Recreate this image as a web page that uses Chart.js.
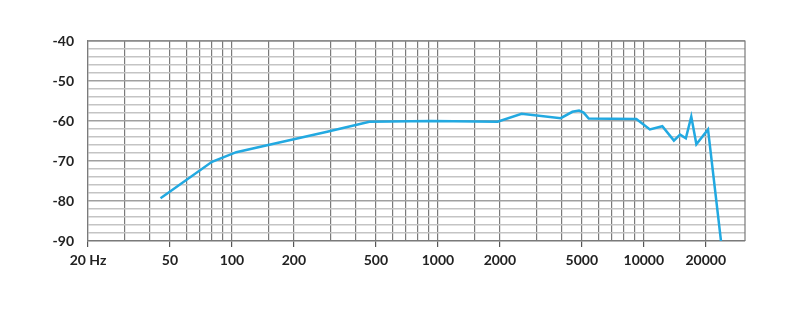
<!DOCTYPE html>
<html>
<head>
<meta charset="utf-8">
<script src="https://cdn.jsdelivr.net/npm/chart.js@4/dist/chart.umd.min.js"></script>
<style>
  html, body { margin: 0; padding: 0; background: #fff; }
  #wrap { width: 800px; height: 311px; }
</style>
</head>
<body>
<div id="wrap"><canvas id="response" width="800" height="311"></canvas></div>
<script>
// frequency response
const freqs = [45, 80, 105, 150, 290, 465, 930, 1950, 2550, 3950, 4500, 4850, 5100, 5400, 9200, 10700, 12300, 14000, 15000, 16000, 17000, 18000, 20500, 23700]
const levels = [-79.3, -70.2, -67.8, -66, -62.7, -60.2, -60, -60.2, -58.2, -59.3, -57.7, -57.4, -57.9, -59.4, -59.5, -62.1, -61.3, -64.9, -63.4, -64.3, -58.9, -65.8, -62.1, -90]

// vertical grid lines and the labelled ones
const gridFreqs = [20, 30, 40, 50, 60, 70, 80, 90, 100, 150, 200, 300, 400, 500, 600, 700, 800, 900, 1000, 1500, 2000, 3000, 4000, 5000, 6000, 7000, 8000, 9000, 10000, 15000, 20000]
const freqLabels = { 20: '20 Hz', 50: '50', 100: '100', 200: '200', 500: '500', 1000: '1000', 2000: '2000', 5000: '5000', 10000: '10000', 20000: '20000' }

const labelFont = { family: 'Lato', size: 14, weight: 'bold' }

const points = freqs.map((f, i) => ({ x: f, y: levels[i] }))

const ctx = document.getElementById('response').getContext('2d')
const chart = new Chart(ctx, {
  type: 'line',
  data: {
    datasets: [{
      data: points,
      borderColor: '#22a9e1',
      borderWidth: 2.5,
      pointRadius: 0,
      tension: 0,
      fill: false,
    }]
  },
  options: {
    responsive: false,
    animation: false,
    layout: { padding: { left: 0, right: 55, top: 41, bottom: 0 } },
    plugins: {
      legend: { display: false },
      tooltip: { enabled: false },
    },
    scales: {
      x: {
        type: 'logarithmic',
        min: 20,
        max: 31000,
        afterBuildTicks: (scale) => {
          scale.ticks = gridFreqs.map(v => ({ value: v }))
        },
        afterFit: (scale) => { scale.height = 70 },
        grid: {
          color: '#7a7a7a',
          lineWidth: 1.2,
          drawTicks: true,
          tickLength: 6,
          tickColor: (c) => freqLabels[c.tick && c.tick.value] ? '#555' : 'rgba(0,0,0,0)',
        },
        border: { color: '#7a7a7a', width: 1.2 },
        ticks: {
          autoSkip: false,
          maxRotation: 0,
          padding: 5,
          color: '#222',
          font: labelFont,
          callback: (value) => freqLabels[value] || '',
        },
      },
      y: {
        min: -90,
        max: -40,
        afterFit: (scale) => { scale.width = 88 },
        grid: {
          color: (c) => c.tick && c.tick.value % 10 === 0 ? '#a0a0a0' : '#c4c4c4',
          lineWidth: 1.6,
          drawTicks: false,
        },
        border: { color: '#7a7a7a', width: 1.2 },
        ticks: {
          stepSize: 2,
          autoSkip: false,
          padding: 14,
          color: '#222',
          font: labelFont,
          callback: (value) => value % 10 === 0 ? String(value) : '',
        },
      },
    },
  },
  plugins: [{
    // closing the frame on top and right like the original
    id: 'frame',
    afterDraw: (c) => {
      const a = c.chartArea
      const g = c.ctx
      g.save()
      g.strokeStyle = '#7a7a7a'
      g.lineWidth = 1.2
      g.beginPath()
      g.moveTo(a.left, a.top)
      g.lineTo(a.right, a.top)
      g.lineTo(a.right, a.bottom)
      g.stroke()
      g.restore()
    }
  }]
})
</script>
</body>
</html>
